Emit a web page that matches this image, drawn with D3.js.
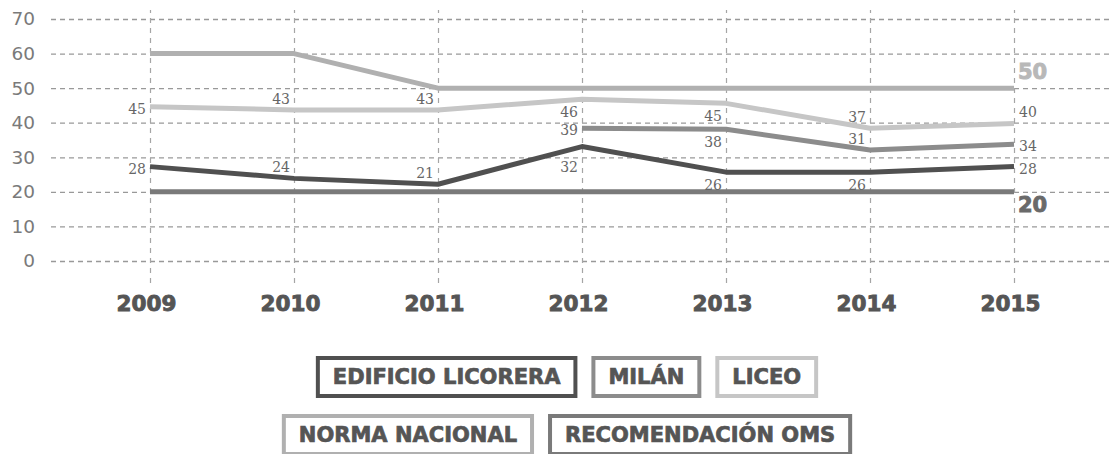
<!DOCTYPE html>
<html>
<head>
<meta charset="utf-8">
<script src="https://cdn.jsdelivr.net/npm/d3@7"></script>
<style>
  html, body { margin: 0; padding: 0; background: #fff; }
  svg { display: block; }
</style>
</head>
<body>
<svg id="chart" width="1112" height="454"></svg>
<script>
/* global d3 */

const years = ["2009", "2010", "2011", "2012", "2013", "2014", "2015"];
const yTicks = [0, 10, 20, 30, 40, 50, 60, 70];

const licorera = [27.3, 23.9, 22.2, 33.1, 25.7, 25.7, 27.3];
const licoreraLabels = ["28", "24", "21", "32", "26", "26", "28"];
const milan = [null, null, null, 38.4, 38.1, 32.1, 33.8];
const milanLabels = [null, null, null, "39", "38", "31", "34"];
const liceo = [44.6, 43.7, 43.7, 46.8, 45.6, 38.4, 39.8];
const liceoLabels = ["45", "43", "43", "46", "45", "37", "40"];
const normaNacional = [60, 60, 50, 50, 50, 50, 50];
const recomendacionOms = [20, 20, 20, 20, 20, 20, 20];

const legendNames = ["EDIFICIO LICORERA", "MILÁN", "LICEO", "NORMA NACIONAL", "RECOMENDACIÓN OMS"];

// where each value label sits relative to its point
const placeOffset = { mid: 2, above: -11, below: 13, low: 20 };

const series = [
  { key: "oms", values: recomendacionOms, color: "#7a7a7a", end: "20", endColor: "#6a6a6a", endDy: 13 },
  { key: "norma", values: normaNacional, color: "#b0b0b0", end: "50", endColor: "#b8b8b8", endDy: -17 },
  { key: "liceo", values: liceo, labels: liceoLabels, color: "#c6c6c6",
    place: ["mid", "above", "above", "below", "below", "above", "above"] },
  { key: "milan", values: milan, labels: milanLabels, color: "#8c8c8c",
    place: [null, null, null, "mid", "below", "above", "mid"] },
  { key: "licorera", values: licorera, labels: licoreraLabels, color: "#505050",
    place: ["mid", "above", "above", "low", "below", "below", "mid"] }
];

const legendColors = ["#505050", "#8c8c8c", "#c6c6c6", "#b0b0b0", "#7a7a7a"];
const legendRows = [[0, 1, 2], [3, 4]];

const svg = d3.select("#chart");

const x = d3.scalePoint().domain(years).range([150, 1014]);
const y = d3.scaleLinear().domain([0, 70]).range([261, 19]);

const gridLeft = 51, gridRight = 1112, gridTop = 10, gridBottom = 283;

// horizontal grid + y labels
const gy = svg.append("g")
  .attr("transform", "translate(" + gridLeft + ",0)")
  .call(d3.axisLeft(y).tickValues(yTicks).tickSize(-(gridRight - gridLeft)).tickPadding(16));
gy.select(".domain").remove();
gy.selectAll(".tick line")
  .attr("stroke", "#999").attr("stroke-width", 1.3).attr("stroke-dasharray", "5,4");
gy.selectAll(".tick text")
  .attr("fill", "#7a7a7a").attr("font-family", "DejaVu Sans, sans-serif").attr("font-size", 18.5);

// vertical grid + year labels (heavy type, thickened with a stroke)
const gx = svg.append("g")
  .attr("transform", "translate(0," + gridBottom + ")")
  .call(d3.axisBottom(x).tickSize(-(gridBottom - gridTop)).tickPadding(13));
gx.select(".domain").remove();
gx.selectAll(".tick line")
  .attr("stroke", "#a5a5a5").attr("stroke-width", 1.2).attr("stroke-dasharray", "5,5");
gx.selectAll(".tick text")
  .attr("dx", -4)
  .attr("fill", "#555").attr("stroke", "#555").attr("stroke-width", 0.9)
  .attr("font-family", "DejaVu Sans, sans-serif")
  .attr("font-weight", "bold").attr("font-size", 21.5);

const line = d3.line()
  .defined(d => d != null)
  .x((d, i) => x(years[i]))
  .y(d => y(d));

const lastIdx = years.length - 1;

series.forEach(s => {
  svg.append("path")
    .datum(s.values)
    .attr("fill", "none")
    .attr("stroke", s.color)
    .attr("stroke-width", 5)
    .attr("stroke-linejoin", "round")
    .attr("d", line);

  if (s.labels) {
    s.labels.forEach((lab, i) => {
      if (lab == null) return;
      const right = i === lastIdx;
      svg.append("text")
        .attr("x", x(years[i]) + (right ? 5 : -4))
        .attr("y", y(s.values[i]) + placeOffset[s.place[i]])
        .attr("dy", "0.36em")
        .attr("text-anchor", right ? "start" : "end")
        .attr("fill", "#666")
        .attr("font-family", "DejaVu Serif, serif")
        .attr("font-size", 14)
        .text(lab);
    });
  }

  if (s.end) {
    svg.append("text")
      .attr("x", x(years[lastIdx]) + 4)
      .attr("y", y(s.values[lastIdx]) + s.endDy)
      .attr("dy", "0.36em")
      .attr("fill", s.endColor)
      .attr("stroke", s.endColor).attr("stroke-width", 0.9)
      .attr("font-family", "DejaVu Sans, sans-serif")
      .attr("font-weight", "bold")
      .attr("font-size", 21)
      .text(s.end);
  }
});

// legend: outlined boxes, two centered rows
const legendCenter = 567, boxGap = 14, pad = 17, boxH = 42;
const rowTops = [356, 414];

legendRows.forEach((row, r) => {
  const g = svg.append("g");
  const items = row.map(idx => {
    const t = g.append("text")
      .attr("fill", "#555")
      .attr("stroke", "#555").attr("stroke-width", 0.7)
      .attr("font-family", "DejaVu Sans, sans-serif")
      .attr("font-weight", "bold")
      .attr("font-size", 21)
      .text(legendNames[idx]);
    return { idx, t, w: t.node().getComputedTextLength() + 2 * pad };
  });
  const total = d3.sum(items, d => d.w) + boxGap * (items.length - 1);
  let cx = legendCenter - total / 2;
  items.forEach(it => {
    g.insert("rect", "text")
      .attr("x", cx + 2).attr("y", rowTops[r] + 2)
      .attr("width", it.w - 4).attr("height", boxH - 4)
      .attr("fill", "#fff")
      .attr("stroke", legendColors[it.idx])
      .attr("stroke-width", 4);
    it.t.attr("x", cx + pad).attr("y", rowTops[r] + 27.5);
    cx += it.w + boxGap;
  });
});
</script>
</body>
</html>
